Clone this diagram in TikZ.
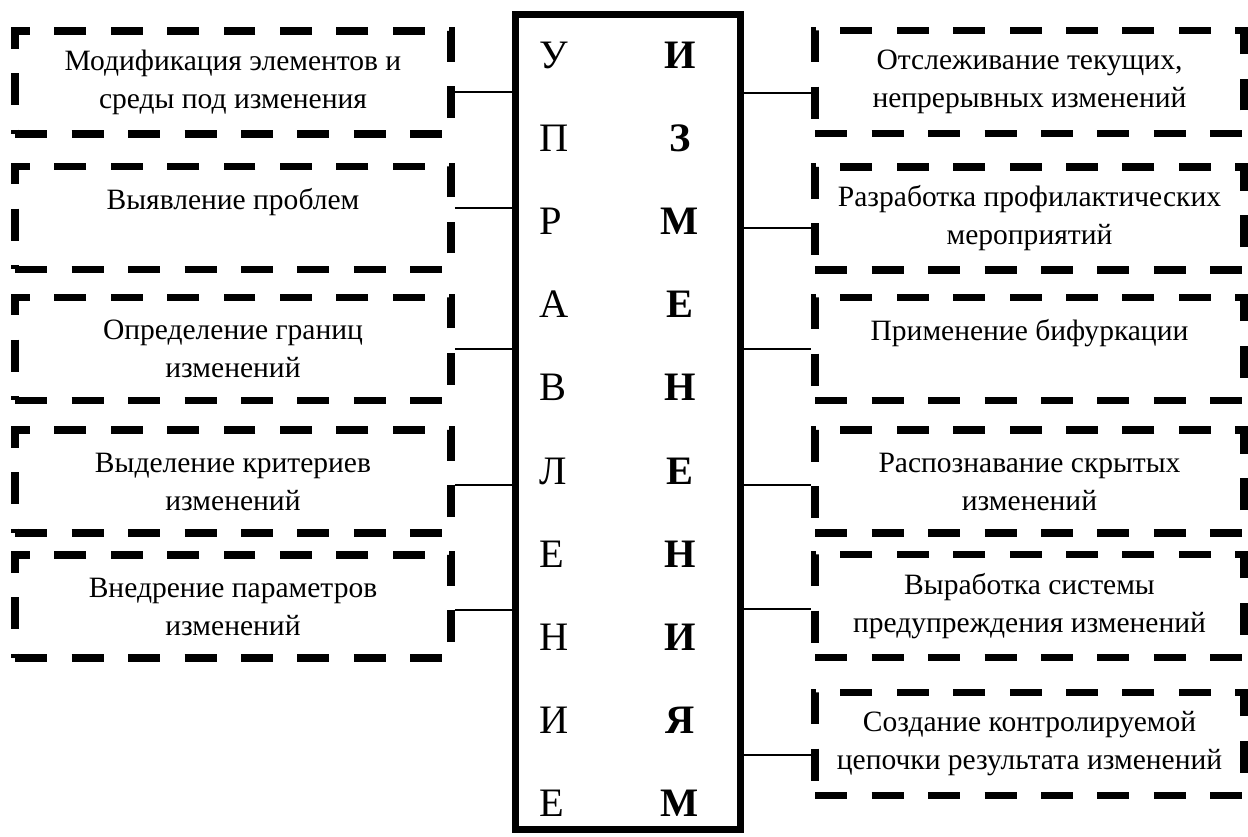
\documentclass[tikz,border=0pt]{standalone}
\usepackage{fontspec}
\setmainfont{LiberationSerif}[Extension=.ttf, UprightFont=*-Regular, BoldFont=*-Bold,
  ItalicFont=*-Italic, BoldItalicFont=*-BoldItalic]
\usetikzlibrary{calc}

\begin{document}
\begin{tikzpicture}[
  x=0.02cm, y=-0.02cm,
  task/.style={rectangle, draw, line width=4.5pt, dash pattern=on 0.64cm off 0.49cm,
    minimum height=2.06cm, align=center, inner sep=0pt, font=\rmfamily\fontsize{16.8pt}{21.6pt}\selectfont},
  lefttask/.style={task, minimum width=8.72cm},
  righttask/.style={task, minimum width=8.58cm},
  letter/.style={inner sep=0pt, font=\rmfamily\fontsize{23pt}{28pt}\selectfont},
  link/.style={line width=1.1pt}
]
\useasboundingbox (0,0) rectangle (1248,836);

% central word box
\node[draw, line width=4pt, minimum width=4.49cm, minimum height=16.32cm] (word) at (628,422) {};
\foreach \l [count=\n] in {У,П,Р,А,В,Л,Е,Н,И,Е}
  \node[letter, anchor=base west] (u\n) at (539,{68+83.2*(\n-1)}) {\l};
\foreach \l [count=\n] in {И,З,М,Е,Н,Е,Н,И,Я,М}
  \node[letter, anchor=base, font=\rmfamily\fontsize{23pt}{28pt}\selectfont\bfseries] (i\n) at (680,{68+83.2*(\n-1)}) {\l};

% left side
\node[lefttask] (l1) at (233,82.5) {Модификация элементов и\\среды под изменения};
\node[lefttask] (l2) at (233,218) {Выявление проблем\\\mbox{}};
\node[lefttask] (l3) at (233,349) {Определение границ\\изменений};
\node[lefttask] (l4) at (233,481.5) {Выделение критериев\\изменений};
\node[lefttask] (l5) at (233,606.5) {Внедрение параметров\\изменений};

% right side
\node[righttask] (r1) at (1029.5,82) {Отслеживание текущих,\\непрерывных изменений};
\node[righttask] (r2) at (1029.5,218.5) {Разработка профилактических\\мероприятий};
\node[righttask] (r3) at (1029.5,349) {Применение бифуркации\\\mbox{}};
\node[righttask] (r4) at (1029.5,481.5) {Распознавание скрытых\\изменений};
\node[righttask] (r5) at (1029.5,606) {Выработка системы\\предупреждения изменений};
\node[righttask] (r6) at (1029.5,744) {Создание контролируемой\\цепочки результата изменений};

\foreach \n/\d in {1/9.5, 2/-10, 3/0, 4/3.5, 5/3.5}
  \draw[link] ($(l\n.east)+(0,\d)$) -- ($(l\n.east -| word.west)+(0,\d)$);
\foreach \n/\d in {1/11, 2/9.5, 3/0, 4/3.5, 5/3, 6/11}
  \draw[link] ($(r\n.west -| word.east)+(0,\d)$) -- ($(r\n.west)+(0,\d)$);
\end{tikzpicture}
\end{document}
